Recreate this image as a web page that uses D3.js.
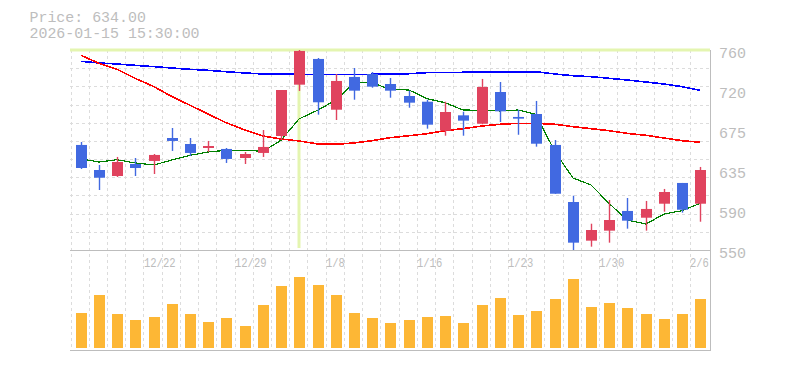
<!DOCTYPE html>
<html>
<head>
<meta charset="utf-8">
<script src="https://cdn.jsdelivr.net/npm/d3@7"></script>
<style>
  html, body { margin: 0; padding: 0; background: #fff; }
  svg { display: block; }
  text { font-family: "Liberation Mono", "DejaVu Sans Mono", monospace; }
</style>
</head>
<body>
<svg id="chart" width="785" height="370"></svg>
<script>
// ---- data ----
const dates = ["12/16","12/17","12/18","12/19","12/22","12/23","12/24","12/25","12/26","12/29",
  "12/30","1/5","1/6","1/7","1/8","1/9","1/13","1/14","1/15","1/16",
  "1/19","1/20","1/21","1/22","1/23","1/26","1/27","1/28","1/29","1/30",
  "2/2","2/3","2/4","2/5","2/6"];
const open  = [660.3,634.0,627.7,640.3,643.5,667.6,661.3,657.1,656.1,646.6,
  651.9,669.7,723.6,750.6,697.3,731.7,734.8,724.3,711.7,705.7,
  675.3,691.4,682.6,715.9,689.7,692.8,660.3,600.4,559.8,570.3,
  591.0,583.9,598.6,620.4,598.6];
const high  = [663.4,639.3,647.7,646.6,650.8,678.1,667.6,664.5,657.1,652.9,
  676.0,718.0,760.0,751.6,734.8,741.1,736.9,730.6,717.3,707.8,
  705.7,695.2,729.6,726.4,697.3,706.5,665.5,607.0,577.6,602.5,
  604.6,601.5,614.1,620.4,637.2];
const low   = [635.1,613.0,626.7,627.7,629.8,654.0,648.7,652.9,641.4,640.3,
  647.7,665.5,717.0,692.1,686.5,707.8,720.4,709.9,699.4,677.4,
  670.0,670.0,682.0,684.4,671.0,658.5,609.0,550.0,553.5,557.7,
  572.4,570.3,590.2,589.2,579.7];
const close = [636.1,625.9,642.4,636.1,649.8,664.5,651.9,659.2,645.6,650.8,
  658.2,718.0,759.0,705.1,727.5,717.3,721.5,717.3,704.7,681.6,
  694.9,685.8,721.2,695.6,687.9,661.6,609.1,557.7,571.0,581.5,
  580.8,593.1,610.9,592.3,634.0];
const volume = [350000,530000,340000,280000,310000,440000,340000,260000,300000,220000,
  430000,620000,710000,630000,530000,350000,300000,250000,280000,310000,
  320000,250000,430000,500000,330000,370000,490000,690000,410000,450000,
  400000,340000,290000,340000,490000];
const ma5  = [645.6,642.4,644.8,641.4,639.3,644.5,649.4,652.9,654.7,654.7,
  653.6,665.2,687.6,697.0,707.5,725.7,725.7,718.7,718.0,708.9,
  704.7,697.0,696.7,696.0,697.0,692.4,652.9,625.6,618.3,599.0,
  581.5,577.3,587.8,591.3,599.0];
const ma25 = [754.4,746.0,739.7,730.3,721.5,711.0,702.0,692.8,683.7,676.0,
  669.7,666.6,664.5,661.3,661.0,662.4,664.8,667.9,670.0,672.1,
  675.3,677.4,680.2,682.0,683.0,683.0,682.0,679.5,677.4,675.3,
  672.5,670.4,667.6,664.8,663.1];
const ma75 = [748.1,746.4,745.3,743.9,742.5,741.1,739.7,738.7,737.2,735.9,
  734.8,734.8,734.5,734.1,734.1,734.1,734.5,734.8,735.1,736.2,
  736.2,736.6,737.2,737.2,737.2,737.2,734.8,733.0,732.0,730.3,
  728.5,726.4,724.3,721.5,717.7];
const yTickValues = [760,718,676,634,592,550];
const yTickLabels = ["760","720","675","635","590","550"];
const xTickLabels = ["12/22","12/29","1/8","1/16","1/23","1/30","2/6"];
const infoLines = ["Price: 634.00","2026-01-15 15:30:00"];
const crossIndex = 12;

// ---- layout ----
const svg = d3.select("#chart");
const L = 70, R = 710, T = 50, B = 250, VB = 350;
const idx = d3.range(dates.length);
const x = d3.scaleBand().domain(idx).range([71.5, 709.5]).paddingInner(0).paddingOuter(0);
const step = x.step();
const cx = i => x(i) + step / 2;
const y = d3.scaleLinear().domain([550, 760]).range([B, T]);
const yv = d3.scaleLinear().domain([0, 800000]).range([348, 268]);

const gridColor = "#dcdcdc";
const grid = svg.append("g");
// horizontal grid (price area)
d3.range(1, 11).forEach(k => {
  const yy = Math.round(T + k * (B - T) / 11) + 0.5;
  grid.append("line").attr("x1", L).attr("x2", R).attr("y1", yy).attr("y2", yy)
    .attr("stroke", gridColor).attr("stroke-dasharray", "3,3");
});
// vertical grid
idx.forEach(i => {
  const xx = Math.round(x(i)) - 0.5;
  grid.append("line").attr("x1", xx).attr("x2", xx).attr("y1", T).attr("y2", VB)
    .attr("stroke", gridColor).attr("stroke-dasharray", "3,3");
});

// crosshair
const crossColor = "#e4f5b0";
svg.append("line").attr("x1", L).attr("x2", R).attr("y1", T).attr("y2", T)
  .attr("stroke", crossColor).attr("stroke-width", 3);
svg.append("line").attr("x1", Math.round(cx(crossIndex))).attr("x2", Math.round(cx(crossIndex)))
  .attr("y1", T).attr("y2", B - 2).attr("stroke", crossColor).attr("stroke-width", 3);

// frame lines
const frameColor = "#bdbdbd";
svg.append("line").attr("x1", L).attr("x2", R + 1).attr("y1", B + 0.5).attr("y2", B + 0.5).attr("stroke", frameColor);
svg.append("line").attr("x1", L).attr("x2", R + 1).attr("y1", VB + 0.5).attr("y2", VB + 0.5).attr("stroke", frameColor);
svg.append("line").attr("x1", R + 0.5).attr("x2", R + 0.5).attr("y1", T).attr("y2", VB + 1).attr("stroke", frameColor);

// moving averages
const lineGen = arr => d3.line().x((d, i) => Math.round(cx(i))).y(d => y(d))(arr);
[[ma75, "#0000ff", 1.6], [ma25, "#ff0000", 1.6], [ma5, "#008000", 1.2]].forEach(([arr, col, w]) => {
  svg.append("path").attr("d", lineGen(arr)).attr("fill", "none")
    .attr("stroke", col).attr("stroke-width", w).attr("shape-rendering", "crispEdges");
});

// candles
const upColor = "#e0435e", downColor = "#4169e1";
const cg = svg.append("g");
idx.forEach(i => {
  const col = close[i] >= open[i] ? upColor : downColor;
  const c = Math.round(cx(i));
  cg.append("line").attr("x1", c + 0.5).attr("x2", c + 0.5)
    .attr("y1", Math.max(T, y(high[i]))).attr("y2", y(low[i]))
    .attr("stroke", col).attr("stroke-width", 1.4);
  const top = Math.max(T, y(Math.max(open[i], close[i])));
  const bot = y(Math.min(open[i], close[i]));
  cg.append("rect").attr("x", c - 5).attr("width", 11)
    .attr("y", top).attr("height", Math.max(1.5, bot - top))
    .attr("fill", col);
});

// volume bars
svg.append("g").selectAll("rect").data(volume).join("rect")
  .attr("x", (d, i) => Math.round(cx(i)) - 5).attr("width", 11)
  .attr("y", d => yv(d)).attr("height", d => yv(0) - yv(d))
  .attr("fill", "#fdb735");

// y axis labels
const txtColor = "#bdbdbd";
svg.append("g").selectAll("text").data(yTickValues).join("text")
  .attr("x", 719).attr("y", d => y(d) + 8)
  .attr("font-size", 15).attr("fill", txtColor)
  .text((d, i) => yTickLabels[i]);

// x axis labels
svg.append("g").selectAll("text").data(xTickLabels).join("text")
  .attr("x", d => Math.round(cx(dates.indexOf(d))) - 10).attr("y", 266.5)
  .attr("font-size", 12.5).attr("fill", txtColor)
  .attr("textLength", d => d.length * 6.3).attr("lengthAdjust", "spacingAndGlyphs")
  .text(d => d);

// info text
svg.append("g").selectAll("text").data(infoLines).join("text")
  .attr("x", 29.5).attr("y", (d, i) => 22.2 + i * 15.8)
  .attr("font-size", 14).attr("fill", txtColor)
  .attr("textLength", d => d.length * 8.95).attr("lengthAdjust", "spacingAndGlyphs")
  .text(d => d);
</script>
</body>
</html>
